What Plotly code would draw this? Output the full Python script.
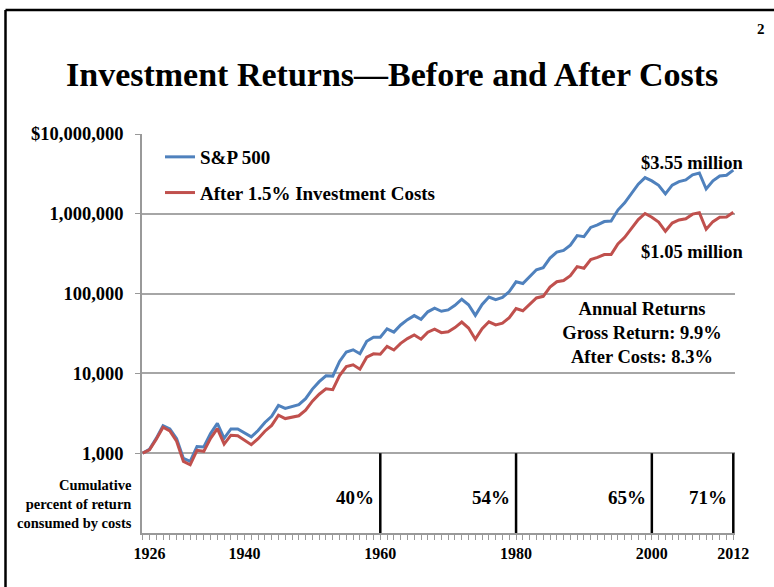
import plotly.graph_objects as go

# ---------------- data ----------------
years = list(range(1925, 2013))
sp500 = [1000, 1116, 1535, 2204, 2018, 1516, 859, 789, 1214, 1197,
         1767, 2367, 1538, 2016, 2008, 1812, 1602, 1927, 2427, 2906,
         3965, 3645, 3853, 4065, 4829, 6360, 7888, 9336, 9244, 14108,
         18561, 19778, 17646, 25298, 28322, 28455, 36106, 32954, 40469, 47139,
         53008, 47674, 59104, 65642, 60059, 62465, 71406, 84956, 72500, 53311,
         73144, 90584, 84077, 89592, 106113, 140514, 133616, 162223, 198745, 211199,
         279117, 330671, 347967, 405458, 533576, 516964, 674586, 725986, 799045, 809550,
         1113918, 1369946, 1827026, 2349205, 2845629, 2586524, 2279127, 1775341, 2284785, 2533370,
         2657658, 3077283, 3246348, 2045355, 2586586, 2976191, 3039066, 3525584]
after_costs = [1000, 1100, 1493, 2113, 1908, 1414, 790, 715, 1085, 1055,
               1536, 2029, 1300, 1681, 1651, 1469, 1280, 1519, 1886, 2227,
               2997, 2716, 2832, 2946, 3451, 4482, 5481, 6397, 6246, 9400,
               12196, 12814, 11274, 15938, 17595, 17432, 21812, 19631, 23773, 27306,
               30279, 26853, 32829, 35953, 32438, 33268, 37502, 43998, 37025, 26847,
               36323, 44357, 40598, 42660, 49824, 65060, 61005, 73036, 88235, 92461,
               120498, 140770, 146073, 167839, 217800, 208088, 267757, 284151, 308399, 308115,
               418065, 507003, 666755, 845408, 1009828, 905128, 786459, 604095, 766637, 838242,
               867141, 990085, 1029969, 639910, 797988, 905417, 911689, 1042938]

series_names = ["S&P 500", "After 1.5% Investment Costs"]
series_colors = ["#4F81BD", "#C0504D"]

x_label_years = [1926, 1940, 1960, 1980, 2000, 2012]
y_tick_values = [1000, 10000, 100000, 1000000, 10000000]
y_tick_labels = ["1,000", "10,000", "100,000", "1,000,000", "$10,000,000"]

cost_years = [1960, 1980, 2000, 2012]
cost_pct = ["40%", "54%", "65%", "71%"]

end_labels = ["$3.55 million", "$1.05 million"]
returns_box = ["Annual Returns", "Gross Return: 9.9%", "After Costs: 8.3%"]

# ---------------- layout geometry ----------------
W, H = 774, 587
L, R, T, B = 142, 39, 134, 54
PW, PH = W - L - R, H - T - B
FONT = "Liberation Serif, Times New Roman, serif"


def px(xp):
    return (xp - L) / PW


def py(yp):
    return (H - B - yp) / PH


fig = go.Figure()

for name, vals, col, grp in zip(series_names, [sp500, after_costs], series_colors, ["a", "b"]):
    fig.add_trace(go.Scatter(x=years, y=vals, mode="lines", name="<b>" + name + "</b>",
                             legendgroup=grp,
                             line=dict(color=col, width=3), hoverinfo="skip"))

# vertical lines in the "cost consumed" strip
vx, vy = [], []
for yr in cost_years:
    vx += [yr, yr, None]
    vy += [y_tick_values[0], 100, None]
fig.add_trace(go.Scatter(x=vx, y=vy, mode="lines", line=dict(color="black", width=2.5),
                         showlegend=False, hoverinfo="skip"))

annotations = []
for yr, pct in zip(cost_years, cost_pct):
    annotations.append(dict(x=yr, xref="x", y=py(497), yref="paper", text="<b>" + pct + "</b>",
                            xanchor="right", yanchor="middle", xshift=-4, showarrow=False,
                            font=dict(family=FONT, size=19, color="black")))

annotations.append(dict(x=px(134), y=py(504), xref="paper", yref="paper",
                        text="<b>Cumulative<br>percent of return<br>consumed by costs</b>",
                        xanchor="right", yanchor="middle", align="right", showarrow=False,
                        font=dict(family=FONT, size=14.5, color="black")))

annotations.append(dict(x=px(745), y=py(163), xref="paper", yref="paper",
                        text="<b>" + end_labels[0] + "</b>", xanchor="right", yanchor="middle",
                        showarrow=False, font=dict(family=FONT, size=18.5, color="black")))
annotations.append(dict(x=px(745), y=py(252), xref="paper", yref="paper",
                        text="<b>" + end_labels[1] + "</b>", xanchor="right", yanchor="middle",
                        showarrow=False, font=dict(family=FONT, size=18.5, color="black")))

annotations.append(dict(x=px(642), y=py(333), xref="paper", yref="paper",
                        text="<b>" + "<br>".join(returns_box) + "</b>", xanchor="center",
                        yanchor="middle", align="center", showarrow=False, bgcolor="white",
                        width=176, borderpad=3,
                        font=dict(family=FONT, size=18.5, color="black")))

annotations.append(dict(x=px(392), y=py(75), xref="paper", yref="paper",
                        text="<b>Investment Returns\u2014Before and After Costs</b>",
                        xanchor="center", yanchor="middle", showarrow=False,
                        font=dict(family=FONT, size=34, color="black")))
annotations.append(dict(x=px(761), y=py(29), xref="paper", yref="paper",
                        text="<b>2</b>", xanchor="center", yanchor="middle", showarrow=False,
                        font=dict(family=FONT, size=15, color="black")))

shapes = [
    dict(type="line", xref="paper", yref="paper", x0=px(5.5), x1=px(5.5), y0=py(10), y1=py(600),
         line=dict(color="black", width=2.5)),
    dict(type="line", xref="paper", yref="paper", x0=px(5.5), x1=px(790), y0=py(10), y1=py(10),
         line=dict(color="black", width=2.5)),
]

fig.update_layout(
    width=W, height=H,
    margin=dict(l=L, r=R, t=T, b=B),
    paper_bgcolor="white", plot_bgcolor="white",
    font=dict(family=FONT, color="black"),
    showlegend=True,
    legend=dict(x=px(160), y=py(138), xanchor="left", yanchor="top",
                bgcolor="rgba(0,0,0,0)", font=dict(family=FONT, size=19, color="black"),
                traceorder="grouped", tracegroupgap=8),
    annotations=annotations,
    shapes=shapes,
    xaxis=dict(range=[1924.9, 2012.25], tickmode="array", tickvals=years,
               ticktext=["<b>%d</b>" % y if y in x_label_years else "" for y in years],
               ticks="outside", ticklen=5, tickcolor="#999999", tickwidth=1,
               showline=True, linecolor="#999999", linewidth=1.5, showgrid=False, zeroline=False,
               tickfont=dict(family=FONT, size=16, color="black")),
    yaxis=dict(type="log", range=[2, 7], tickmode="array", tickvals=y_tick_values,
               ticktext=["<b>" + t + "</b>" for t in y_tick_labels],
               ticks="outside", ticklen=5, tickcolor="#999999", ticklabelstandoff=8,
               showline=True, linecolor="#999999", linewidth=1.5,
               showgrid=True, gridcolor="#A6A6A6", gridwidth=1.5, zeroline=False,
               tickfont=dict(family=FONT, size=18.5, color="black")),
)

fig.write_html("out.html", config={"displayModeBar": False},
               post_script="document.body.style.margin='0px';")
